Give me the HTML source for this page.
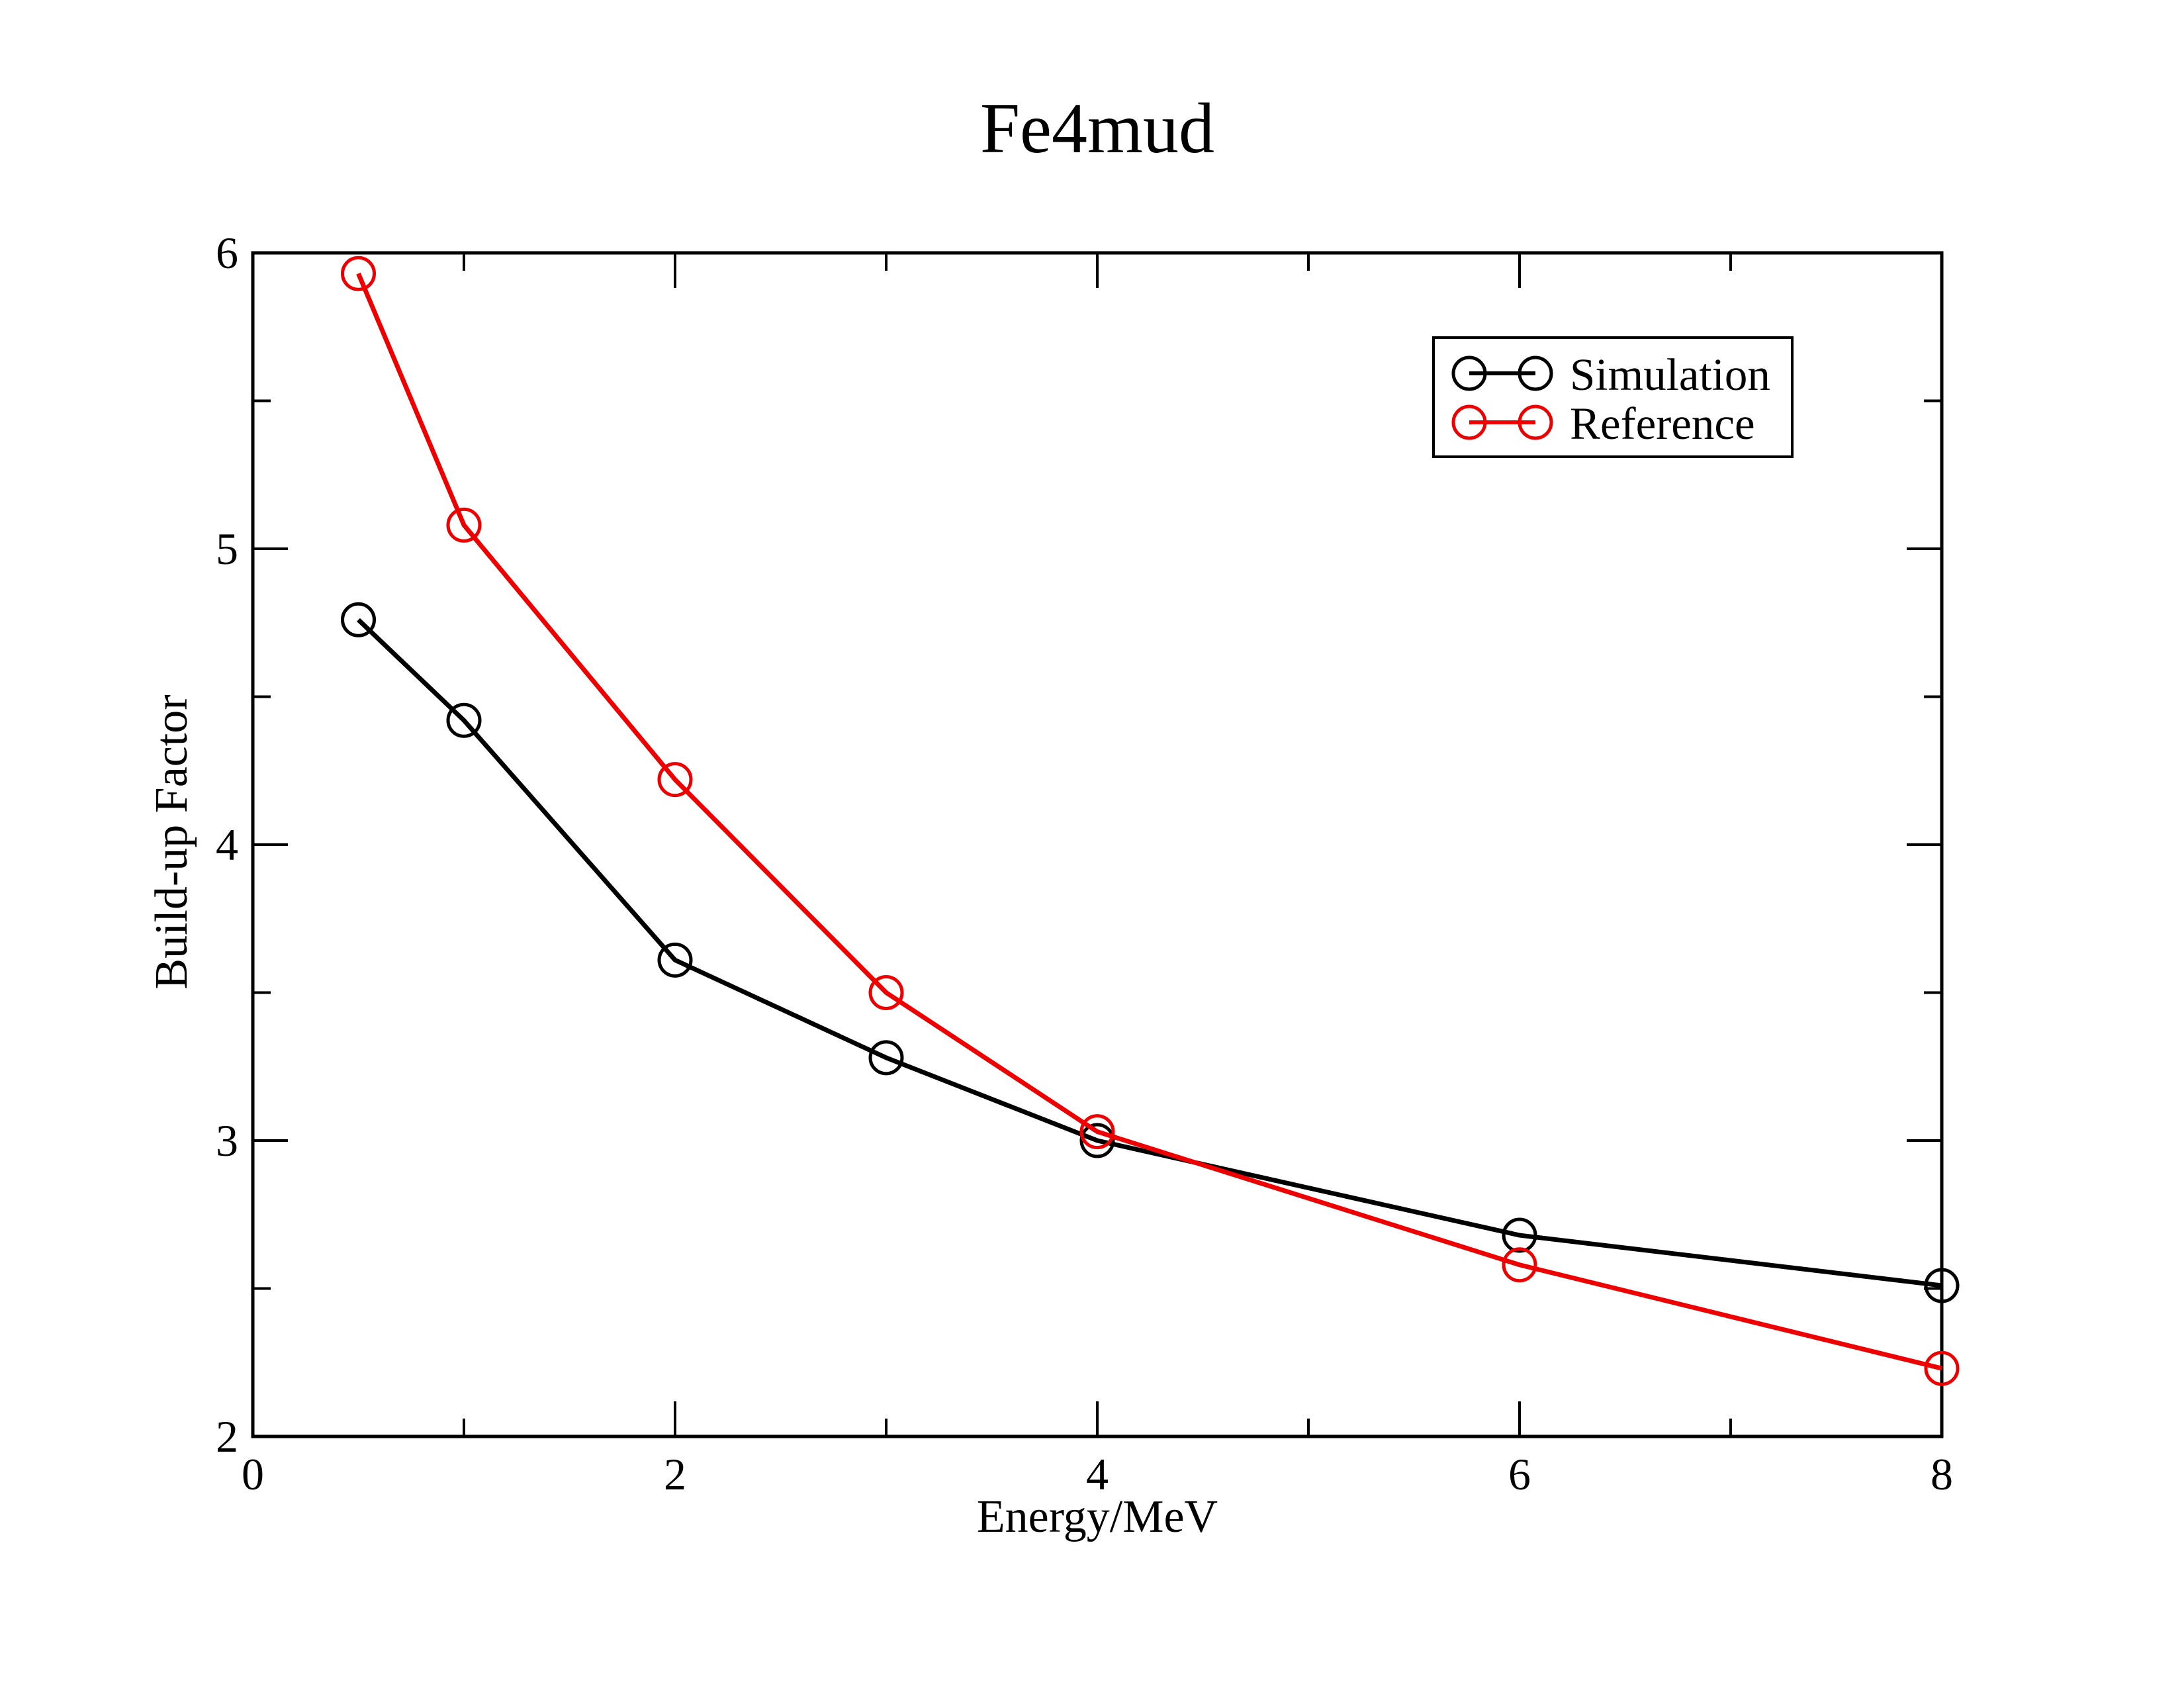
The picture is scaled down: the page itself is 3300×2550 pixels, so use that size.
<!DOCTYPE html>
<html><head><meta charset="utf-8"><style>
html,body{margin:0;padding:0;background:#fff}
svg{display:block}
text{font-family:"Liberation Serif",serif;fill:#000}
</style></head><body>
<svg id="chart" width="3300" height="2550" viewBox="0 0 3300 2550" xmlns="http://www.w3.org/2000/svg">
<rect width="3300" height="2550" fill="#fff"/>
<text x="1658" y="230" font-size="108" text-anchor="middle">Fe4mud</text>
<g id="axes"></g>
<g id="series"></g>
<text x="1658" y="2314" font-size="70" text-anchor="middle">Energy/MeV</text>
<text x="0" y="0" font-size="70" text-anchor="middle" transform="translate(282,1272) rotate(-90)">Build-up Factor</text>
<g>
<rect x="2166" y="510" width="542" height="180" fill="#fff" stroke="#000" stroke-width="4"/>
<g>
<line x1="2220" y1="564" x2="2320" y2="564" stroke="#000" stroke-width="6"/>
<circle cx="2220" cy="564" r="24" fill="none" stroke="#000" stroke-width="5"/>
<circle cx="2320" cy="564" r="24" fill="none" stroke="#000" stroke-width="5"/>
<text x="2372" y="589" font-size="69">Simulation</text>
</g>
<g>
<line x1="2220" y1="638" x2="2320" y2="638" stroke="#e00" stroke-width="6"/>
<circle cx="2220" cy="638" r="24" fill="none" stroke="#e00" stroke-width="5"/>
<circle cx="2320" cy="638" r="24" fill="none" stroke="#e00" stroke-width="5"/>
<text x="2372" y="663" font-size="69">Reference</text>
</g>
</g>
</svg>
<script>
const energies = [0.5, 1, 2, 3, 4, 6, 8];
const simulation = [4.76, 4.42, 3.61, 3.28, 3.00, 2.68, 2.51];
const reference = [5.93, 5.08, 4.22, 3.50, 3.03, 2.58, 2.23];
const xTicks = [0, 2, 4, 6, 8];
const yTicks = [2, 3, 4, 5, 6];

const NS = "http://www.w3.org/2000/svg";
const L = 382, R = 2934, T = 382, B = 2170;
const xMin = 0, xMax = 8, yMin = 2, yMax = 6;
function sx(v){ return L + (v - xMin) / (xMax - xMin) * (R - L); }
function sy(v){ return B - (v - yMin) / (yMax - yMin) * (B - T); }
function mk(tag, attrs, parent){
  const e = document.createElementNS(NS, tag);
  for (const k in attrs) e.setAttribute(k, attrs[k]);
  parent.appendChild(e);
  return e;
}
const axes = document.getElementById('axes');
const frame = mk('rect', {x:L, y:T, width:R-L, height:B-T, fill:'none', stroke:'#000', 'stroke-width':5}, axes);


for (let v = xMin; v <= xMax; v += 1) {
  const major = xTicks.includes(v);
  const len = major ? 53 : 27;
  const x = sx(v);
  const t1 = mk('line', {x1:x, y1:B, x2:x, y2:B-len, stroke:'#000', 'stroke-width':4}, axes);
  
  
  const t2 = mk('line', {x1:x, y1:T, x2:x, y2:T+len, stroke:'#000', 'stroke-width':4}, axes);
  
  
}
xTicks.forEach(v => {
  const t = mk('text', {x:sx(v), y:B+80, 'font-size':68, 'text-anchor':'middle'}, axes);
  t.textContent = v;
  
  
});
for (let v = yMin; v <= yMax; v += 0.5) {
  const major = yTicks.includes(v);
  const len = major ? 53 : 27;
  const y = sy(v);
  const t1 = mk('line', {x1:L, y1:y, x2:L+len, y2:y, stroke:'#000', 'stroke-width':4}, axes);
  
  
  const t2 = mk('line', {x1:R, y1:y, x2:R-len, y2:y, stroke:'#000', 'stroke-width':4}, axes);
  
  
}
yTicks.forEach(v => {
  const t = mk('text', {x:L-22, y:sy(v)+23, 'font-size':68, 'text-anchor':'end'}, axes);
  t.textContent = v;
  
  
});
const seriesG = document.getElementById('series');
function drawSeries(vals, color, name){
  const pts = energies.map((e,i) => sx(e) + ',' + sy(vals[i])).join(' ');
  const pl = mk('polyline', {points:pts, fill:'none', stroke:color, 'stroke-width':7, 'stroke-linejoin':'round'}, seriesG);
  
  
  energies.forEach((e,i) => {
    const c = mk('circle', {cx:sx(e), cy:sy(vals[i]), r:24, fill:'none', stroke:color, 'stroke-width':5}, seriesG);
    
    
  });
}
drawSeries(simulation, '#000', 'simulation');
drawSeries(reference, '#e00', 'reference');
</script>
</body></html>
